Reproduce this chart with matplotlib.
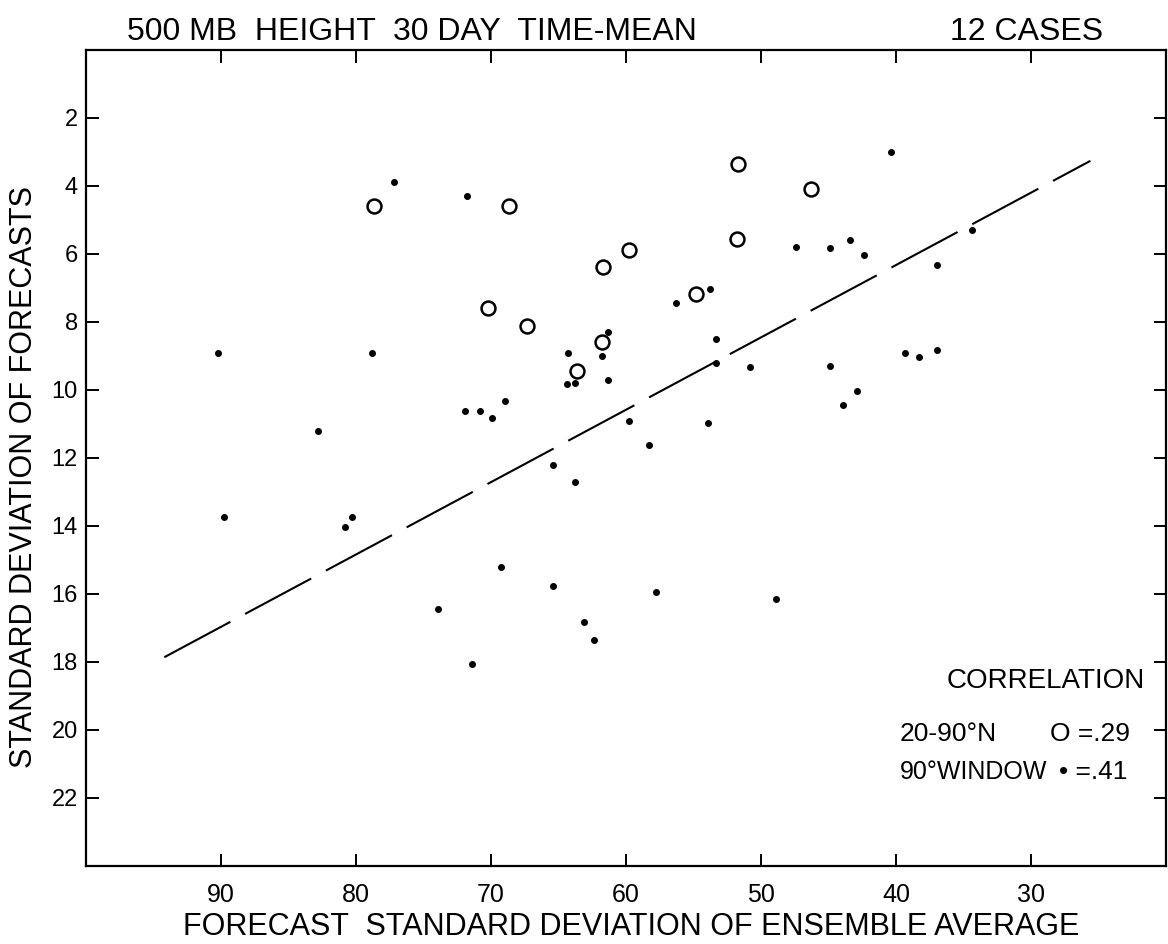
import matplotlib
matplotlib.use("Agg")
import matplotlib.pyplot as plt

plt.rcParams['font.family'] = ['Liberation Sans', 'DejaVu Sans']

# 12 cases, 20-90N (open circles)
circle_x = [78.7, 68.7, 51.7, 46.3, 51.8, 59.8, 61.7, 70.2, 67.3, 54.8, 61.8, 63.65]
circle_y = [4.6, 4.6, 3.36, 4.1, 5.57, 5.88, 6.39, 7.6, 8.13, 7.18, 8.6, 9.43]

# 90 degree windows (dots)
dot_x = [77.2, 71.75, 90.2, 78.8, 71.9, 70.8, 69.9, 82.8, 47.4, 53.8,
         56.3, 61.3, 61.8, 64.3, 64.4, 63.8, 61.3, 53.3, 53.35, 50.8,
         69.0, 59.8, 53.9, 58.3, 65.4, 63.8, 40.35, 44.9, 43.4, 42.4,
         34.4, 37.0, 44.9, 39.35, 38.3, 37.0, 42.9, 43.9, 89.8, 80.3,
         80.8, 69.25, 65.4, 57.8, 48.9, 73.9, 63.1, 62.4, 71.4]
dot_y = [3.89, 4.29, 8.9, 8.92, 10.63, 10.61, 10.83, 11.22, 5.8, 7.03,
         7.43, 8.3, 9.01, 8.91, 9.82, 9.79, 9.72, 8.5, 9.22, 9.32,
         10.31, 10.9, 10.96, 11.63, 12.2, 12.72, 3.01, 5.81, 5.6, 6.04,
         5.3, 6.33, 9.3, 8.92, 9.03, 8.81, 10.02, 10.44, 13.73, 13.73,
         14.02, 15.2, 15.77, 15.93, 16.14, 16.44, 16.83, 17.36, 18.06]

# fitted line ends
line_x = [94.2, 25.6]
line_y = [17.86, 3.26]

x_ticks = [90, 80, 70, 60, 50, 40, 30]
y_ticks = [2, 4, 6, 8, 10, 12, 14, 16, 18, 20, 22]

fig = plt.figure(figsize=(11.68, 9.44), dpi=100)
ax = fig.add_axes([86/1168, 1-866/944, (1166-86)/1168, (866-50)/944])

ax.plot(line_x, line_y, color="black", lw=1.5, ls=(0, (36, 8)))
ax.plot(dot_x, dot_y, "o", color="black", ms=4)
ax.plot(circle_x, circle_y, "o", mfc="white", mec="black", ms=10, mew=1.8)

ax.set_xlim(100, 20)
ax.set_ylim(24, 0)
ax.set_xticks(x_ticks)
ax.set_yticks(y_ticks)
ax.tick_params(axis="x", direction="in", length=9, width=1.4, top=True,
               labelsize=18, pad=12)
ax.tick_params(axis="y", direction="in", length=9, width=1.4, right=True,
               labelsize=17, pad=6)
for s in ax.spines.values():
    s.set_linewidth(1.6)

fig.text(127/1168, 1-40/944, "500 MB  HEIGHT  30 DAY  TIME-MEAN", fontsize=23,
         ha="left", va="baseline")
fig.text(950/1168, 1-40/944, "12 CASES", fontsize=23, ha="left", va="baseline")
fig.text(631/1168, 1-927/944, "FORECAST  STANDARD DEVIATION OF ENSEMBLE AVERAGE",
         fontsize=22, ha="center", va="center")
fig.text(24/1168, 1-477/944, "STANDARD DEVIATION OF FORECASTS", fontsize=22,
         rotation=90, ha="center", va="center")

fig.text(1145/1168, 1-681/944, "CORRELATION", fontsize=20, ha="right", va="center")
fig.text(900/1168, 1-734/944, "20-90°N", fontsize=19, ha="left", va="center")
fig.text(1050/1168, 1-734/944, "O =.29", fontsize=19, ha="left", va="center")
fig.text(900/1168, 1-772/944, "90°WINDOW", fontsize=18, ha="left", va="center")
fig.text(1059/1168, 1-772/944, "• =.41", fontsize=19, ha="left", va="center")

fig.savefig("out.png", dpi=100)
